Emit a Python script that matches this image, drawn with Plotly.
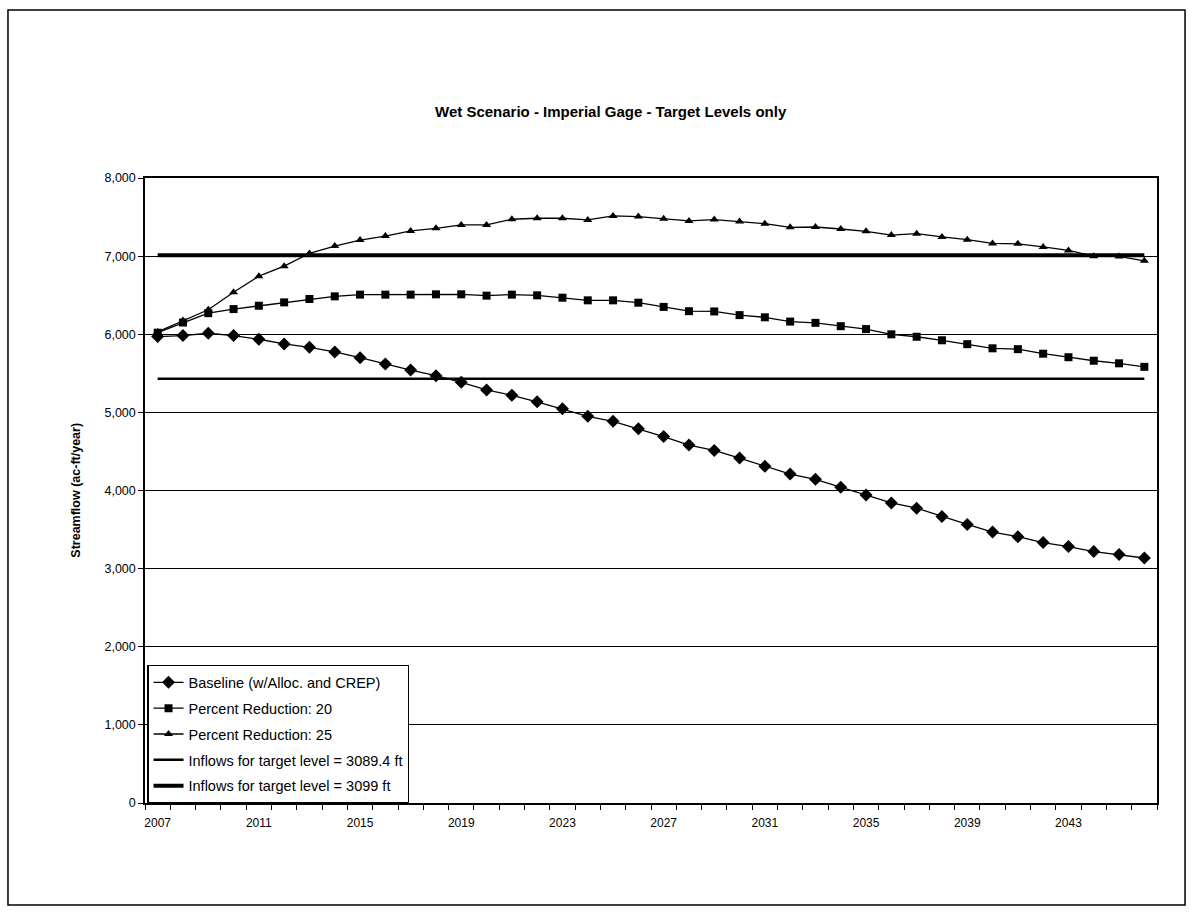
import plotly.graph_objects as go

years = list(range(2007, 2047))

baseline = [5970, 5983, 6013, 5983, 5936, 5876, 5833, 5773, 5700, 5619,
            5541, 5470, 5385, 5287, 5219, 5135, 5045, 4950, 4885, 4790,
            4691, 4581, 4513, 4415, 4310, 4210, 4143, 4041, 3943, 3841,
            3774, 3668, 3566, 3468, 3409, 3333, 3283, 3219, 3182, 3136]

reduction20 = [6020, 6150, 6270, 6322, 6365, 6408, 6451, 6485, 6507, 6507,
               6507, 6511, 6511, 6494, 6507, 6498, 6468, 6434, 6434, 6404,
               6350, 6295, 6292, 6245, 6217, 6162, 6146, 6103, 6066, 5999,
               5968, 5923, 5873, 5820, 5809, 5751, 5706, 5661, 5628, 5583]

reduction25 = [6030, 6176, 6313, 6537, 6743, 6871, 7034, 7129, 7206, 7257,
               7322, 7356, 7399, 7399, 7472, 7485, 7485, 7463, 7515, 7506,
               7480, 7450, 7468, 7442, 7416, 7369, 7373, 7347, 7317, 7270,
               7287, 7245, 7210, 7163, 7157, 7118, 7073, 7000, 6996, 6940]

target_3089 = [5430] * len(years)
target_3099 = [7010] * len(years)

label_years = list(range(2007, 2047, 4))

FONT = "Liberation Sans, Arial, sans-serif"

fig = go.Figure()
fig.add_trace(go.Scatter(x=years, y=baseline, mode="lines+markers",
                         name="Baseline (w/Alloc. and CREP)", legendgroup="a",
                         line=dict(color="black", width=1.3),
                         marker=dict(symbol="diamond", size=10, color="black")))
fig.add_trace(go.Scatter(x=years, y=reduction20, mode="lines+markers",
                         name="Percent Reduction: 20", legendgroup="b",
                         line=dict(color="black", width=1.3),
                         marker=dict(symbol="square", size=8, color="black")))
fig.add_trace(go.Scatter(x=years, y=reduction25, mode="lines+markers",
                         name="Percent Reduction: 25", legendgroup="c",
                         line=dict(color="black", width=1.3),
                         marker=dict(symbol="triangle-up", size=8, color="black")))
fig.add_trace(go.Scatter(x=years, y=target_3089, mode="lines",
                         name="Inflows for target level = 3089.4 ft", legendgroup="d",
                         line=dict(color="black", width=2.5)))
fig.add_trace(go.Scatter(x=years, y=target_3099, mode="lines",
                         name="Inflows for target level = 3099 ft", legendgroup="e",
                         line=dict(color="black", width=4)))

fig.update_layout(
    width=1192, height=914,
    margin=dict(l=145, r=35, t=178, b=111),
    paper_bgcolor="white", plot_bgcolor="white",
    font=dict(family=FONT, color="black", size=12),
    showlegend=True,
    legend=dict(x=0.002, y=0.221, xanchor="left", yanchor="top",
                bgcolor="white", bordercolor="black", borderwidth=1.5,
                font=dict(size=14.5, family=FONT), tracegroupgap=4,
                itemwidth=30),
    xaxis=dict(range=[2006.5, 2046.5], tickmode="array",
               tickvals=label_years, ticktext=[str(y) for y in label_years],
               ticks="", showgrid=False, showline=True, linecolor="black",
               linewidth=1.5, mirror=True, zeroline=False,
               tickfont=dict(size=12, family=FONT), ticklabelstandoff=8,
               minor=dict(tick0=2006.5, dtick=1, ticks="outside", ticklen=5,
                          tickcolor="black", showgrid=False)),
    yaxis=dict(range=[0, 8000], dtick=1000, tickformat=",",
               showgrid=True, gridcolor="black", gridwidth=1,
               showline=True, linecolor="black", linewidth=1.5, mirror=True,
               ticks="outside", ticklen=5, tickcolor="black", zeroline=False,
               tickfont=dict(size=12.5, family=FONT)),
)

fig.add_annotation(text="<b>Wet Scenario - Imperial Gage - Target Levels only</b>",
                   xref="paper", yref="paper", x=0.46, y=1.106,
                   showarrow=False, font=dict(size=15, family=FONT),
                   xanchor="center", yanchor="middle")
fig.add_annotation(text="<b>Streamflow (ac-ft/year)</b>", textangle=-90,
                   xref="paper", yref="paper", x=-0.069, y=0.5,
                   showarrow=False, font=dict(size=12.5, family=FONT),
                   xanchor="center", yanchor="middle")

# outer chart-area frame
fig.add_shape(type="rect", xref="paper", yref="paper",
              x0=-0.1354, x1=1.0277, y0=-0.1632, y1=1.2688,
              line=dict(color="black", width=1.5), fillcolor="rgba(0,0,0,0)")

fig.write_html("out.html")
